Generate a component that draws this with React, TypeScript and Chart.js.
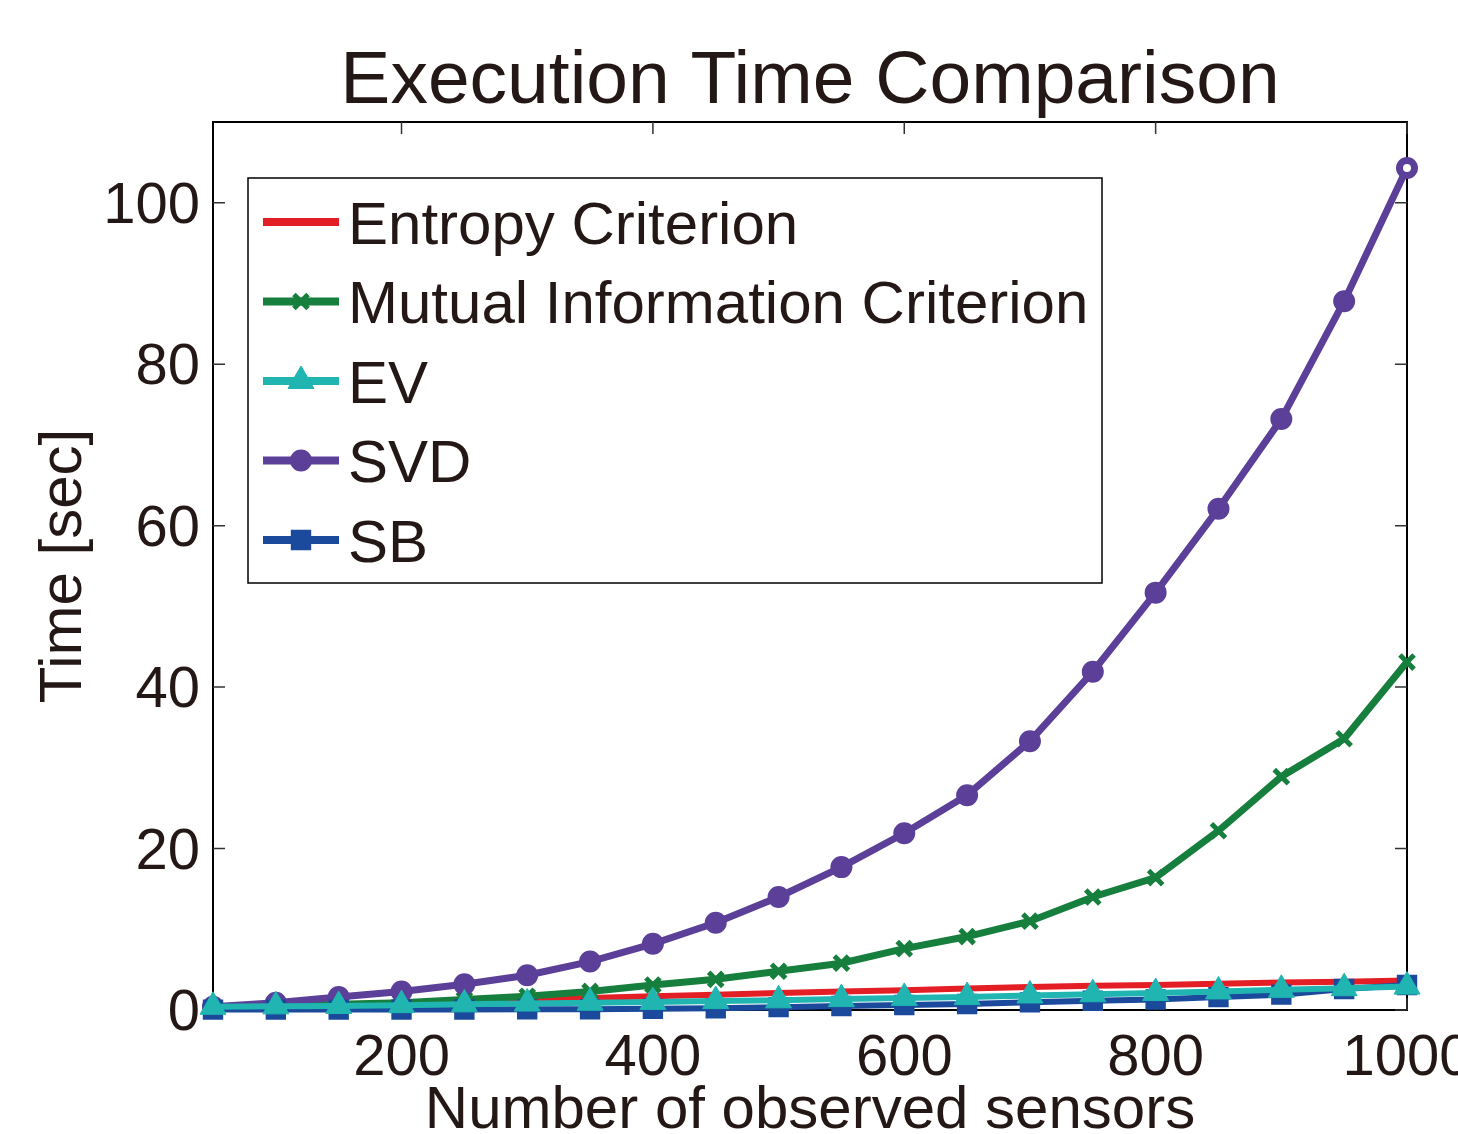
import React, { useEffect, useRef } from 'react';
import { Chart, registerables } from 'chart.js';
import { drawPoint } from 'chart.js/helpers';

Chart.register(...registerables);

// ---------- data ----------
const TITLE = 'Execution Time Comparison';
const X_TITLE = 'Number of observed sensors';
const Y_TITLE = 'Time [sec]';

const sensorCounts = [50, 100, 150, 200, 250, 300, 350, 400, 450, 500, 550, 600, 650, 700, 750, 800, 850, 900, 950, 1000];

const entropyTimes = [0.3, 0.45, 0.65, 0.85, 1.05, 1.25, 1.5, 1.7, 1.9, 2.1, 2.3, 2.45, 2.65, 2.85, 3.0, 3.1, 3.25, 3.4, 3.5, 3.65];
const mutualInfoTimes = [0.3, 0.5, 0.7, 0.9, 1.3, 1.7, 2.3, 3.1, 3.8, 4.8, 5.8, 7.6, 9.1, 11.0, 14.0, 16.4, 22.2, 28.9, 33.6, 43.1];
const evTimes = [0.4, 0.45, 0.5, 0.6, 0.7, 0.8, 0.9, 1.0, 1.1, 1.2, 1.35, 1.5, 1.6, 1.8, 1.95, 2.1, 2.3, 2.5, 2.7, 2.9];
const svdTimes = [0.4, 0.9, 1.6, 2.3, 3.2, 4.3, 6.0, 8.2, 10.8, 14.0, 17.7, 21.9, 26.6, 33.3, 41.9, 51.7, 62.1, 73.2, 87.8, 104.3];
const sbTimes = [0.05, 0.05, 0.05, 0.06, 0.07, 0.08, 0.1, 0.15, 0.22, 0.35, 0.5, 0.62, 0.75, 0.95, 1.15, 1.3, 1.6, 1.9, 2.6, 3.1];

const seriesLabels = ['Entropy Criterion', 'Mutual Information Criterion', 'EV', 'SVD', 'SB'];

const xTickValues = [200, 400, 600, 800, 1000];
const yTickValues = [0, 20, 40, 60, 80, 100];
const X_MIN = 50;
const X_MAX = 1000;
const Y_MIN = 0;
const Y_MAX = 110;

// ---------- styles ----------
const FONT = '"Liberation Sans", Arial, Helvetica, sans-serif';
const TEXT = '#231815';
const RED = '#e31e25';
const GREEN = '#177f3d';
const CYAN = '#20b5b1';
const PURPLE = '#5b3f98';
const BLUE = '#1b4a9c';

const toPoints = (ys: number[]) => sensorCounts.map((x, i) => ({ x, y: ys[i] }));

const framePlugin = {
  id: 'frame',
  beforeDatasetsDraw(chart: any) {
    const { ctx, chartArea: a, scales } = chart;
    ctx.save();
    ctx.strokeStyle = '#000';
    ctx.lineWidth = 2;
    ctx.strokeRect(a.left, a.top, a.right - a.left, a.bottom - a.top);
    ctx.lineWidth = 1.5;
    ctx.strokeStyle = '#333';
    const L = 12;
    ctx.beginPath();
    for (const v of xTickValues) {
      const px = scales.x.getPixelForValue(v);
      ctx.moveTo(px, a.bottom);
      ctx.lineTo(px, a.bottom - L);
      ctx.moveTo(px, a.top);
      ctx.lineTo(px, a.top + L);
    }
    for (const v of yTickValues) {
      const py = scales.y.getPixelForValue(v);
      ctx.moveTo(a.left, py);
      ctx.lineTo(a.left + L, py);
      ctx.moveTo(a.right, py);
      ctx.lineTo(a.right - L, py);
    }
    ctx.stroke();
    ctx.restore();
  },
};

const legendPlugin = {
  id: 'boxLegend',
  afterDraw(chart: any) {
    const { ctx, chartArea: a } = chart;
    const bx = a.left + 35;
    const by = a.top + 56;
    const bw = 854;
    const bh = 405;
    ctx.save();
    ctx.fillStyle = '#fff';
    ctx.fillRect(bx, by, bw, bh);
    ctx.strokeStyle = '#000';
    ctx.lineWidth = 1.5;
    ctx.strokeRect(bx, by, bw, bh);
    chart.data.datasets.forEach((ds: any, i: number) => {
      const cy = by + 44 + i * 79.5;
      ctx.strokeStyle = ds.borderColor;
      ctx.lineWidth = 8;
      ctx.beginPath();
      ctx.moveTo(bx + 15, cy);
      ctx.lineTo(bx + 91, cy);
      ctx.stroke();
      const bg = Array.isArray(ds.pointBackgroundColor) ? ds.pointBackgroundColor[0] : ds.pointBackgroundColor;
      ctx.fillStyle = bg;
      ctx.strokeStyle = ds.pointBorderColor;
      ctx.lineWidth = ds.pointBorderWidth;
      drawPoint(ctx, { pointStyle: ds.pointStyle, radius: ds.pointRadius, borderWidth: ds.pointBorderWidth, rotation: 0 } as any, bx + 53, cy);
      ctx.fillStyle = TEXT;
      ctx.font = `60px ${FONT}`;
      ctx.textAlign = 'left';
      ctx.textBaseline = 'alphabetic';
      ctx.fillText(ds.label, bx + 100, cy + 21.5);
    });
    ctx.restore();
  },
};

export default function App() {
  const ref = useRef<HTMLCanvasElement>(null);

  useEffect(() => {
    if (!ref.current) return;
    const chart = new Chart(ref.current, {
      type: 'line',
      data: {
        datasets: [
          {
            label: seriesLabels[0],
            data: toPoints(entropyTimes),
            borderColor: RED,
            backgroundColor: RED,
            borderWidth: 6,
            pointStyle: 'circle',
            pointRadius: 3,
            pointBorderWidth: 1,
            pointBackgroundColor: RED,
            pointBorderColor: RED,
            clip: false,
            order: 4,
          },
          {
            label: seriesLabels[1],
            data: toPoints(mutualInfoTimes),
            borderColor: GREEN,
            backgroundColor: GREEN,
            borderWidth: 7,
            pointStyle: 'crossRot',
            pointRadius: 10,
            pointBorderWidth: 5,
            pointBackgroundColor: GREEN,
            pointBorderColor: GREEN,
            clip: false,
            order: 3,
          },
          {
            label: seriesLabels[2],
            data: toPoints(evTimes),
            borderColor: CYAN,
            backgroundColor: CYAN,
            borderWidth: 6,
            pointStyle: 'triangle',
            pointRadius: 15,
            pointBorderWidth: 1,
            pointBackgroundColor: CYAN,
            pointBorderColor: CYAN,
            clip: false,
            order: 0,
          },
          {
            label: seriesLabels[3],
            data: toPoints(svdTimes),
            borderColor: PURPLE,
            backgroundColor: PURPLE,
            borderWidth: 7,
            pointStyle: 'circle',
            pointRadius: 7.5,
            pointBorderWidth: 7,
            pointBackgroundColor: svdTimes.map((_, i) => (i === svdTimes.length - 1 ? '#ffffff' : PURPLE)),
            pointBorderColor: PURPLE,
            clip: false,
            order: 2,
          },
          {
            label: seriesLabels[4],
            data: toPoints(sbTimes),
            borderColor: BLUE,
            backgroundColor: BLUE,
            borderWidth: 6,
            pointStyle: 'rect',
            pointRadius: 13,
            pointBorderWidth: 2,
            pointBackgroundColor: BLUE,
            pointBorderColor: BLUE,
            clip: false,
            order: 1,
          },
        ] as any,
      },
      options: {
        responsive: false,
        animation: false,
        devicePixelRatio: 1,
        layout: { padding: { left: 0, right: 51, top: 0, bottom: 0 } },
        elements: { line: { tension: 0 } },
        plugins: {
          legend: { display: false },
          tooltip: { enabled: false },
          title: {
            display: true,
            text: TITLE,
            fullSize: false,
            color: TEXT,
            font: { family: FONT, size: 75, weight: 'normal', lineHeight: 1 },
            padding: { top: 45, bottom: 2 },
          },
        },
        scales: {
          x: {
            type: 'linear',
            min: X_MIN,
            max: X_MAX,
            grid: { display: false, drawTicks: false },
            border: { display: false },
            afterBuildTicks: (s: any) => {
              s.ticks = xTickValues.map((value) => ({ value }));
            },
            afterFit: (s: any) => {
              s.height = 124;
              s.paddingLeft = 0;
              s.paddingRight = 0;
            },
            ticks: {
              color: TEXT,
              font: { family: FONT, size: 58 },
              padding: 14,
              maxRotation: 0,
              autoSkip: false,
              callback: (v: any) => String(v),
            },
            title: {
              display: true,
              text: X_TITLE,
              color: TEXT,
              font: { family: FONT, size: 60, lineHeight: 0.75 },
              padding: 0,
            },
          },
          y: {
            type: 'linear',
            min: Y_MIN,
            max: Y_MAX,
            grid: { display: false, drawTicks: false },
            border: { display: false },
            afterBuildTicks: (s: any) => {
              s.ticks = yTickValues.map((value) => ({ value }));
            },
            afterFit: (s: any) => {
              s.width = 213;
              s.paddingTop = 0;
              s.paddingBottom = 0;
            },
            ticks: {
              color: TEXT,
              font: { family: FONT, size: 58 },
              padding: 13,
              labelOffset: 4,
              callback: (v: any) => String(v),
            },
            title: {
              display: true,
              text: Y_TITLE,
              color: TEXT,
              font: { family: FONT, size: 60, lineHeight: 1 },
              padding: { top: 34, bottom: 0 },
            },
          },
        },
      } as any,
      plugins: [framePlugin, legendPlugin],
    });
    return () => chart.destroy();
  }, []);

  return (
    <div style={{ position: 'absolute', left: 0, top: 0, width: 1458, height: 1134, background: '#fff' }}>
      <canvas ref={ref} width={1458} height={1134} style={{ display: 'block', width: 1458, height: 1134 }} />
    </div>
  );
}
